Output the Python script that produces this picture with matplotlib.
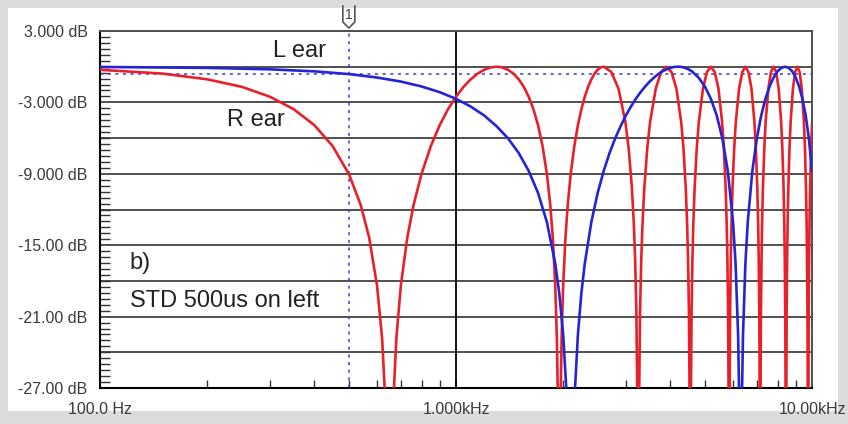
import numpy as np
import matplotlib
matplotlib.use('Agg')
from matplotlib import pyplot as plt
from matplotlib.lines import Line2D
from matplotlib.patches import Rectangle
from matplotlib.transforms import IdentityTransform
from matplotlib.ticker import FixedLocator, MultipleLocator, NullFormatter

plt.rcParams['font.family'] = ['Liberation Sans', 'DejaVu Sans']

# Respuesta del oído derecho (Hz, dB)
r_freq = [100, 150, 200, 250, 300, 350, 400, 450, 500, 540, 570, 600, 620, 635, 650,
          665, 680, 700, 730, 760, 800, 850, 900, 950, 1000, 1050, 1100, 1150, 1200, 1250, 1300,
          1350, 1400, 1450, 1500, 1550, 1600, 1650, 1700, 1750, 1800, 1840, 1870, 1900, 1920, 1935, 1950,
          1965, 1980, 2000, 2030, 2060, 2100, 2150, 2200, 2250, 2300, 2350, 2400, 2450, 2500, 2550, 2600,
          2730, 2860, 2990, 3055, 3120, 3159, 3185, 3211, 3237, 3250,
          3263, 3289, 3315, 3341, 3380, 3445, 3510, 3640, 3770, 3900,
          4030, 4160, 4290, 4355, 4420, 4459, 4485, 4511, 4537, 4550,
          4563, 4589, 4615, 4641, 4680, 4745, 4810, 4940, 5070, 5200,
          5330, 5460, 5590, 5655, 5720, 5759, 5785, 5811, 5837, 5850,
          5863, 5889, 5915, 5941, 5980, 6045, 6110, 6240, 6370, 6500,
          6630, 6760, 6890, 6955, 7020, 7059, 7085, 7111, 7137, 7150,
          7163, 7189, 7215, 7241, 7280, 7345, 7410, 7540, 7670, 7800,
          7930, 8060, 8190, 8255, 8320, 8359, 8385, 8411, 8437, 8450,
          8463, 8489, 8515, 8541, 8580, 8645, 8710, 8840, 8970, 9100,
          9230, 9360, 9490, 9555, 9620, 9659, 9685, 9711, 9737, 9750,
          9763, 9789, 9815, 9841, 9880, 9945, 10000]
r_db = [-0.26, -0.58, -1.06, -1.69, -2.52, -3.57, -4.91, -6.66, -9.01, -11.62, -14.33, -18.38, -22.8, -28.8, -45,
        -28.8, -22.8, -18.38, -14.33, -11.62, -9.01, -6.66, -4.91, -3.57, -2.52, -1.69, -1.06, -0.58, -0.26, -0.06, 0.0,
        -0.06, -0.26, -0.58, -1.06, -1.69, -2.52, -3.57, -4.91, -6.66, -9.01, -11.62, -14.33, -18.38, -22.8, -28.8, -45,
        -28.8, -22.8, -18.38, -14.33, -11.62, -9.01, -6.66, -4.91, -3.57, -2.52, -1.69, -1.06, -0.58, -0.26, -0.06, 0.0,
        -0.44, -1.84, -4.62, -6.86, -10.2, -13.23, -16.11, -20.53, -30.06, -45,
        -30.06, -20.53, -16.11, -13.23, -10.2, -6.86, -4.62, -1.84, -0.44, 0.0,
        -0.44, -1.84, -4.62, -6.86, -10.2, -13.23, -16.11, -20.53, -30.06, -45,
        -30.06, -20.53, -16.11, -13.23, -10.2, -6.86, -4.62, -1.84, -0.44, 0.0,
        -0.44, -1.84, -4.62, -6.86, -10.2, -13.23, -16.11, -20.53, -30.06, -45,
        -30.06, -20.53, -16.11, -13.23, -10.2, -6.86, -4.62, -1.84, -0.44, 0.0,
        -0.44, -1.84, -4.62, -6.86, -10.2, -13.23, -16.11, -20.53, -30.06, -45,
        -30.06, -20.53, -16.11, -13.23, -10.2, -6.86, -4.62, -1.84, -0.44, 0.0,
        -0.44, -1.84, -4.62, -6.86, -10.2, -13.23, -16.11, -20.53, -30.06, -45,
        -30.06, -20.53, -16.11, -13.23, -10.2, -6.86, -4.62, -1.84, -0.44, 0.0,
        -0.44, -1.84, -4.62, -6.86, -10.2, -13.23, -16.11, -20.53, -30.06, -45,
        -30.06, -20.53, -16.11, -13.23, -10.2, -6.86, -4.9]

# Respuesta del oído izquierdo (Hz, dB)
l_freq = [100, 200, 300, 400, 500, 600, 700, 800, 900, 1000, 1100, 1200, 1300, 1400, 1500, 1600, 1700, 1800, 1900,
          1950, 2000, 2040, 2070, 2100, 2130, 2160, 2200, 2250, 2300,
          2400, 2500, 2600, 2700, 2800, 2900, 3000, 3100, 3200, 3300, 3400, 3500, 3600, 3700, 3800, 3900, 4000, 4100, 4200,
          4300, 4400, 4500, 4600, 4800, 5000, 5200, 5400, 5600, 5800, 6000,
          6100, 6200, 6250, 6300, 6350, 6400, 6500, 6600,
          6800, 7000, 7200, 7400, 7600, 7800, 8000, 8200, 8400, 8600, 8800, 9000, 9200, 9400, 9600, 9800, 10000]
l_db = [-0.02, -0.10, -0.22, -0.39, -0.62, -0.91, -1.25, -1.66, -2.14, -2.70, -3.35, -4.10, -5.00, -6.02, -7.25, -8.75, -10.61, -13.05, -16.54,
        -19.02, -22.53, -26.96, -33.0, -50, -33.0, -26.96, -22.53, -19.02, -16.54,
        -13.05, -10.61, -8.75, -7.25, -6.02, -5.00, -4.10, -3.35, -2.70, -2.14, -1.66, -1.25, -0.91, -0.62, -0.39, -0.22, -0.10, -0.02, 0.0,
        -0.02, -0.10, -0.22, -0.39, -0.91, -1.66, -2.70, -4.10, -6.02, -8.75, -13.05,
        -16.54, -22.53, -28.5, -50, -28.5, -22.53, -16.54, -13.05,
        -8.75, -6.02, -4.10, -2.70, -1.66, -0.91, -0.39, -0.10, 0.0, -0.10, -0.39, -0.91, -1.66, -2.70, -4.10, -6.02, -8.75]

# Cursor (1)
cursor_freq = 500
cursor_db = -0.62

y_ticks = [3, -3, -9, -15, -21, -27]
y_labels = ['3.000 dB', '-3.000 dB', '-9.000 dB', '-15.00 dB', '-21.00 dB', '-27.00 dB']
x_ticks = [100, 1000, 10000]
x_labels = ['100.0 Hz', '1.000kHz', '10.00kHz']

fig = plt.figure(figsize=(8.48, 4.24), dpi=100)
fig.patch.set_facecolor('#dcdcdc')
fig.add_artist(Rectangle((8 / 848, 1 - 411 / 424), 830 / 848, 403 / 424,
                         transform=fig.transFigure, facecolor='white', edgecolor='none', zorder=0))

ax = fig.add_axes([100 / 848, 1 - 388 / 424, 712 / 848, 357 / 424])
ax.set_facecolor('white')
ax.set_xscale('log')
ax.set_xlim(100, 10000)
ax.set_ylim(-27, 3)

# rejilla horizontal cada 3 dB
for y in np.arange(-24, 3.1, 3):
    ax.axhline(y, color='#505050', lw=1.4, zorder=1)
ax.axvline(1000, color='black', lw=1.3, zorder=1)

# cursor punteado
ax.axvline(cursor_freq, color='#3b3bd8', lw=1.1, ls=(0, (2, 3)), zorder=2)
ax.axhline(cursor_db, color='#3b3bd8', lw=1.1, ls=(0, (2, 3)), zorder=2)

ax.plot(r_freq, r_db, color='#e8202a', lw=1.9, zorder=3)
ax.plot(l_freq, l_db, color='#2424d6', lw=1.9, zorder=4)

# ejes
ax.yaxis.set_major_locator(FixedLocator(y_ticks))
ax.set_yticklabels(y_labels)
ax.yaxis.set_minor_locator(MultipleLocator(0.5))
ax.tick_params(axis='y', which='major', length=0, pad=9, labelsize=11.5, labelcolor='#3a3a3a')
ax.tick_params(axis='y', which='minor', direction='in', length=7, width=1, color='#333333')

ax.xaxis.set_major_locator(FixedLocator(x_ticks))
ax.set_xticklabels(x_labels)
minor_x = [f * d for d in (100, 1000) for f in range(2, 10)]
ax.xaxis.set_minor_locator(FixedLocator(minor_x))
ax.xaxis.set_minor_formatter(NullFormatter())
ax.tick_params(axis='x', which='major', direction='in', length=6, width=1.2, pad=10, labelsize=11.5, labelcolor='#3a3a3a')
ax.tick_params(axis='x', which='minor', direction='in', length=6, width=1, color='#333333')

for side in ('left', 'bottom'):
    ax.spines[side].set_color('black')
    ax.spines[side].set_linewidth(1.5)
for side in ('top', 'right'):
    ax.spines[side].set_color('#505050')
    ax.spines[side].set_linewidth(1.4)

# rótulos
ax.text(0.243, 0.944, 'L ear', transform=ax.transAxes, fontsize=17, color='#222222', va='center', ha='left')
ax.text(0.178, 0.752, 'R ear', transform=ax.transAxes, fontsize=17, color='#222222', va='center', ha='left')
ax.text(0.042, 0.35, 'b)', transform=ax.transAxes, fontsize=17, color='#222222', va='center', ha='left')
ax.text(0.042, 0.244, 'STD 500us on left', transform=ax.transAxes, fontsize=17, color='#222222',
        va='center', ha='left')

# marcador del cursor sobre el borde superior
px, py = ax.transData.transform((cursor_freq, 3.0))
dx = [-6, -6, 0, 6, 6]
dy = [25, 9, 3, 9, 25]
fig.add_artist(Line2D([px + v for v in dx], [py + v for v in dy], transform=IdentityTransform(),
                      color='#555555', lw=1.2))
fig.text(px, py + 16, '1', transform=IdentityTransform(), fontsize=10, color='#444444',
         ha='center', va='center')

fig.savefig('out.png', dpi=100)
